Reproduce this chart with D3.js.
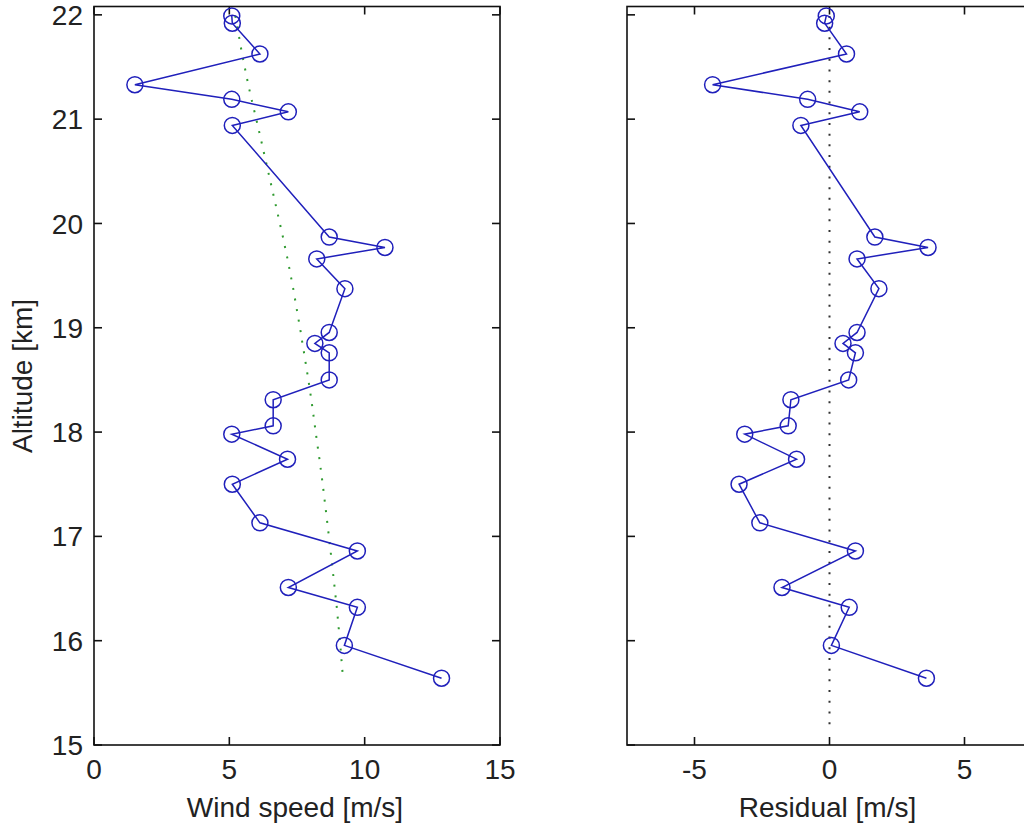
<html>
  <head>
    <style>
    body {
      margin: 0;
      background: #fff;
    }
    text {
      font-family: "Liberation Sans", Arial, sans-serif;
      font-size: 28px;
      fill: #222;
    }
    .frame {
      fill: none;
      stroke: #111;
      stroke-width: 1.6;
    }
    .tick {
      stroke: #111;
      stroke-width: 1.6;
    }
    .obs {
      fill: none;
      stroke: #2020bb;
      stroke-width: 1.5;
    }
    </style>
  </head>
  <body>
    <script src="https://d3js.org/d3.v7.min.js"></script>
    <script>
    // sounding levels, top to bottom [km]
    var altitude = [21.99, 21.92, 21.625, 21.33, 21.19, 21.07, 20.94, 19.87, 19.77, 19.66, 19.375, 18.955,
      18.85, 18.76, 18.50, 18.31, 18.06, 17.98, 17.74, 17.50, 17.13, 16.86, 16.51, 16.32, 15.955, 15.64];

    // measured wind speed [m/s]
    var speed = [5.09, 5.11, 6.13, 1.51, 5.09, 7.18, 5.11, 8.69, 10.75, 8.23, 9.27, 8.69,
      8.16, 8.69, 8.69, 6.62, 6.62, 5.09, 7.15, 5.11, 6.13, 9.73, 7.18, 9.73, 9.25, 12.84];

    // fitted profile (green dotted line)
    var fit = [5.22, 5.27, 5.47, 5.70, 5.82, 5.93, 6.05, 6.98, 7.06, 7.15, 7.36, 7.64,
      7.70, 7.76, 7.92, 8.03, 8.16, 8.20, 8.33, 8.45, 8.62, 8.74, 8.89, 8.97, 9.10, 9.20];

    // residual = measured - fit [m/s]
    var residual = [-0.12, -0.18, 0.63, -4.33, -0.81, 1.12, -1.06, 1.68, 3.65, 1.02, 1.83, 1.02,
      0.50, 0.96, 0.71, -1.43, -1.53, -3.14, -1.22, -3.35, -2.58, 0.96, -1.76, 0.73, 0.07, 3.59];

    // zero reference in the residual panel
    var zeroLine = [{x: 0, y: 15.2}, {x: 0, y: 22}];

    var yTicks = [15, 16, 17, 18, 19, 20, 21, 22];
    var speedTicks = [0, 5, 10, 15];
    var residualTicks = [-5, 0, 5];

    var width = 1024,
      height = 828,
      plotTop = 6.5,
      plotBottom = 745;

    var svg = d3.select("body").append("svg")
        .attr("width", width)
        .attr("height", height);

    var y = d3.scaleLinear().domain([15, 22.08]).range([plotBottom, plotTop]);

    var xSpeed = d3.scaleLinear().domain([0, 15]).range([94, 500]);
    var xResid = d3.scaleLinear().domain([-7.5, 7.5]).range([627, 1032]);

    function panel(id, x, xTicks, xTitle, showY) {
      var g = svg.append("g");
      var x0 = x.range()[0], x1 = x.range()[1];

      g.append("clipPath").attr("id", id)
        .append("rect")
          .attr("x", x0).attr("y", plotTop)
          .attr("width", x1 - x0).attr("height", plotBottom - plotTop);

      var tl = 8;
      // ticks on all four sides, pointing inwards
      xTicks.forEach(function(t){
        g.append("line").attr("class", "tick")
          .attr("x1", x(t)).attr("x2", x(t)).attr("y1", plotBottom).attr("y2", plotBottom - tl);
        g.append("line").attr("class", "tick")
          .attr("x1", x(t)).attr("x2", x(t)).attr("y1", plotTop).attr("y2", plotTop + tl);
        g.append("text")
          .attr("x", x(t)).attr("y", 779)
          .attr("text-anchor", "middle")
          .text(t);
      });
      yTicks.forEach(function(t){
        g.append("line").attr("class", "tick")
          .attr("x1", x0).attr("x2", x0 + tl).attr("y1", y(t)).attr("y2", y(t));
        g.append("line").attr("class", "tick")
          .attr("x1", x1).attr("x2", x1 - tl).attr("y1", y(t)).attr("y2", y(t));
        if (showY) {
          g.append("text")
            .attr("x", x0 - 11).attr("y", y(t))
            .attr("dy", "0.36em")
            .attr("text-anchor", "end")
            .text(t);
        }
      });

      g.append("rect").attr("class", "frame")
        .attr("x", x0).attr("y", plotTop)
        .attr("width", x1 - x0).attr("height", plotBottom - plotTop);

      g.append("text")
        .attr("x", (x0 + x1) / 2 - 2).attr("y", 817)
        .attr("text-anchor", "middle")
        .text(xTitle);

      return g.append("g").attr("clip-path", "url(#" + id + ")");
    }

    function profile(plot, x, values) {
      var pts = values.map(function(v, i){ return {x: v, y: altitude[i]}; });
      var line = d3.line()
          .x(function(d){ return x(d.x); })
          .y(function(d){ return y(d.y); });

      plot.append("path")
        .datum(pts)
        .attr("class", "obs")
        .attr("d", line);

      plot.selectAll(".pt")
        .data(pts)
        .enter().append("circle")
          .attr("class", "obs pt")
          .attr("r", 8)
          .attr("cx", function(d){ return x(d.x); })
          .attr("cy", function(d){ return y(d.y); });
    }

    var dotted = function(plot, x, pts, color) {
      plot.append("path")
        .datum(pts)
        .attr("fill", "none")
        .attr("stroke", color)
        .attr("stroke-width", 2)
        .attr("stroke-dasharray", "2,8.7")
        .attr("d", d3.line()
          .x(function(d){ return x(d.x); })
          .y(function(d){ return y(d.y); }));
    };

    // left: wind speed with fitted profile
    var left = panel("clipL", xSpeed, speedTicks, "Wind speed [m/s]", true);
    dotted(left, xSpeed, fit.map(function(v, i){ return {x: v, y: altitude[i]}; }), "#2f9a2f");
    profile(left, xSpeed, speed);

    // right: residuals around zero
    var right = panel("clipR", xResid, residualTicks, "Residual [m/s]", false);
    dotted(right, xResid, zeroLine, "#333");
    profile(right, xResid, residual);

    svg.append("text")
      .attr("transform", "translate(32,376) rotate(-90)")
      .attr("text-anchor", "middle")
      .text("Altitude [km]");
    </script>
  </body>
</html>
